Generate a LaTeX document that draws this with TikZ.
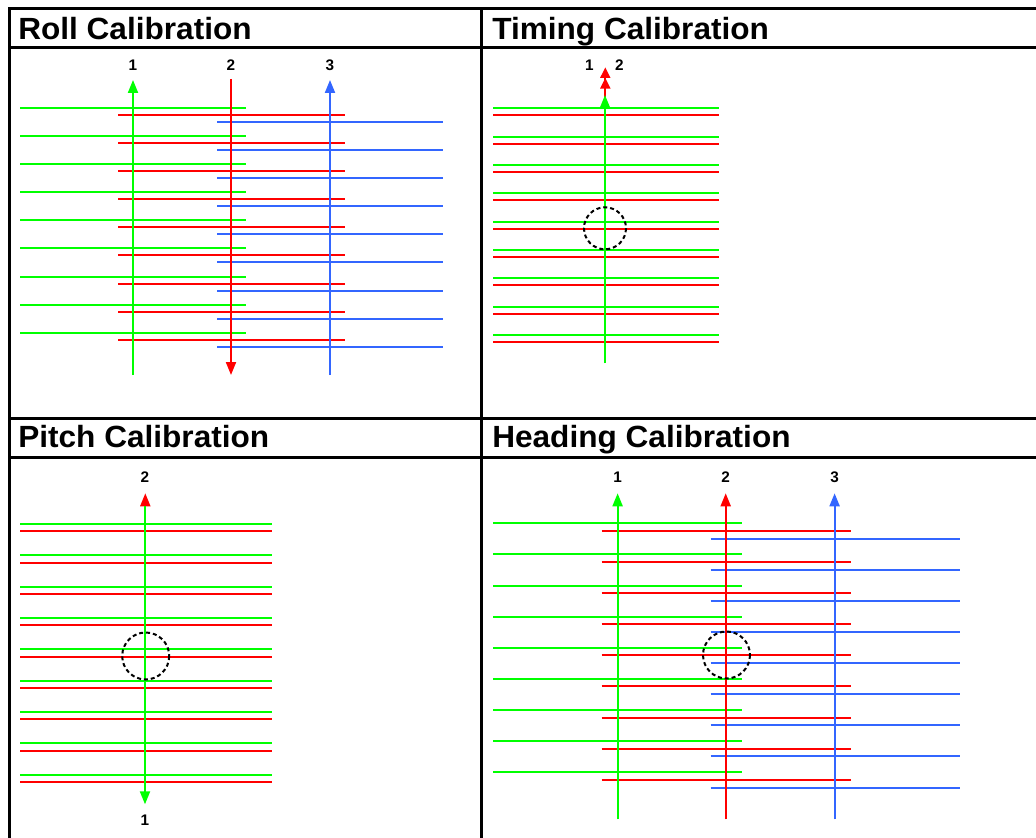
\documentclass[tikz,border=0pt]{standalone}
\usepackage{fontspec}
\setmainfont{Liberation Sans}
\usetikzlibrary{arrows.meta}
\definecolor{lgreen}{RGB}{0,255,0}
\definecolor{lred}{RGB}{255,0,0}
\definecolor{lblue}{RGB}{51,102,255}
\tikzset{
  frameline/.style={line width=2.25pt, black},
  track/.style={line width=1.5pt},
  axis/.style={line width=1.5pt},
  uptip/.style={-{Triangle[width=7.5pt,length=9.75pt]}},
  dbltip/.style={-{Triangle[width=7.5pt,length=8pt]Triangle[width=7.5pt,length=8pt]}},
  paneltitle/.style={anchor=base west, inner sep=0pt, xscale=1.03, font=\fontsize{23}{27}\selectfont\bfseries},
  linelabel/.style={inner sep=0pt, font=\fontsize{11.5}{13}\selectfont\bfseries},
  overlap/.style={draw=black, line width=1.5pt, dash pattern=on 3pt off 2.2pt}
}
\begin{document}
\begin{tikzpicture}[x=0.75pt, y=-0.75pt]
\clip (0,0) rectangle (1036,838);
\fill[white] (0,0) rectangle (1036,838);

% ---------- frame and grid ----------
\draw[frameline] (9.5,9) rectangle (1040,842);
\draw[frameline] (481,9) -- (481,842);
\draw[frameline] (9.5,47.5) -- (1040,47.5);
\draw[frameline] (9.5,418) -- (1040,418);
\draw[frameline] (9.5,457.5) -- (1040,457.5);

% ---------- titles ----------
\node[paneltitle] (t1) at (18,39.3) {Roll Calibration};
\node[paneltitle] (t2) at (492,39.3) {Timing Calibration};
\node[paneltitle] (t3) at (18,447.3) {Pitch Calibration};
\node[paneltitle] (t4) at (492,447.3) {Heading Calibration};

% ---------- roll calibration ----------
\foreach \i in {0,...,8} {
  \draw[track, lgreen] (20,108+28.1*\i) -- (246,108+28.1*\i);
  \draw[track, lred]   (118,115+28.1*\i) -- (345,115+28.1*\i);
  \draw[track, lblue]  (217,122+28.1*\i) -- (443,122+28.1*\i);
}
\coordinate (r1b) at (133,375); \coordinate (r1t) at (133,80);
\coordinate (r2t) at (231,79);  \coordinate (r2b) at (231,375);
\coordinate (r3b) at (330,375); \coordinate (r3t) at (330,80);
\draw[axis, lgreen, uptip] (r1b) -- (r1t);
\draw[axis, lred, uptip]   (r2t) -- (r2b);
\draw[axis, lblue, uptip]  (r3b) -- (r3t);
\node[linelabel] (rl1) at (133,65.5) {1};
\node[linelabel] (rl2) at (231,65.5) {2};
\node[linelabel] (rl3) at (330,65.5) {3};

% ---------- timing calibration ----------
\foreach \i in {0,...,8} {
  \draw[track, lgreen] (493,108.3+28.35*\i) -- (719,108.3+28.35*\i);
  \draw[track, lred]   (493,115.3+28.35*\i) -- (719,115.3+28.35*\i);
}
\coordinate (tm2b) at (605.3,363); \coordinate (tm2t) at (605.3,67.3);
\coordinate (tm1b) at (605,363);   \coordinate (tm1t) at (605,95);
\draw[axis, lred, dbltip] (tm2b) -- (tm2t);
\draw[axis, lgreen, uptip] (tm1b) -- (tm1t);
\draw[overlap] (605,228.3) circle (21);
\node[linelabel] (tl1) at (589.5,65.5) {1};
\node[linelabel] (tl2) at (619.5,65.5) {2};

% ---------- pitch calibration ----------
\foreach \i in {0,...,8} {
  \draw[track, lgreen] (20,524+31.33*\i) -- (272,524+31.33*\i);
  \draw[track, lred]   (20,531.3+31.33*\i) -- (272,531.3+31.33*\i);
}
\coordinate (p2b) at (145.3,790); \coordinate (p2t) at (145.3,493.3);
\coordinate (p1t) at (145,506);   \coordinate (p1b) at (145,804.3);
\draw[axis, lred, uptip]   (p2b) -- (p2t);
\draw[axis, lgreen, uptip] (p1t) -- (p1b);
\draw[overlap] (145.7,656) circle (23.5);
\node[linelabel] (pl2) at (145,477) {2};
\node[linelabel] (pl1) at (145,820.5) {1};

% ---------- heading calibration ----------
\foreach \i in {0,...,8} {
  \draw[track, lgreen] (493,523.3+31.1*\i) -- (742,523.3+31.1*\i);
  \draw[track, lred]   (601.6,530.7+31.15*\i) -- (851,530.7+31.15*\i);
  \draw[track, lblue]  (710.5,538.7+31.1*\i) -- (960,538.7+31.1*\i);
}
\coordinate (h1b) at (617.6,819.3); \coordinate (h1t) at (617.6,493.3);
\coordinate (h2b) at (725.7,819.3); \coordinate (h2t) at (725.7,493.3);
\coordinate (h3b) at (834.6,819.3); \coordinate (h3t) at (834.6,493.3);
\draw[axis, lgreen, uptip] (h1b) -- (h1t);
\draw[axis, lred, uptip]   (h2b) -- (h2t);
\draw[axis, lblue, uptip]  (h3b) -- (h3t);
\draw[overlap] (726.5,655) circle (23.5);
\node[linelabel] (hl1) at (617.6,477) {1};
\node[linelabel] (hl2) at (725.7,477) {2};
\node[linelabel] (hl3) at (834.6,477) {3};
\end{tikzpicture}
\end{document}
